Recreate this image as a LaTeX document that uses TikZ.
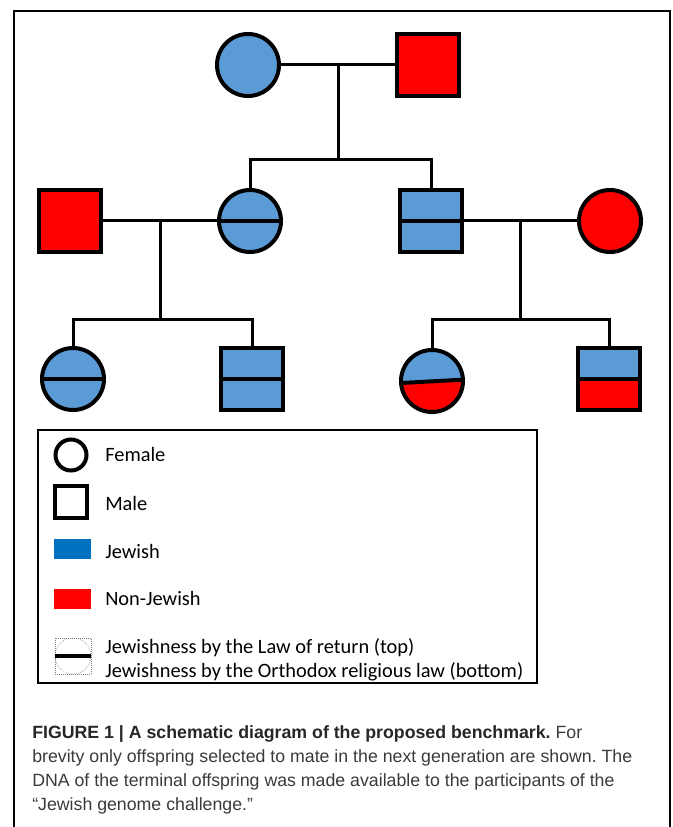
\documentclass[tikz,border=0pt]{standalone}
\usepackage{fontspec}
\setmainfont{Carlito}
\newfontfamily\capfont{Liberation Sans}
\usetikzlibrary{calc}
\frenchspacing

\definecolor{pblue}{HTML}{5B9BD5}
\definecolor{lblue}{HTML}{0070C0}
\definecolor{pred}{HTML}{FF0000}
\definecolor{capgray}{HTML}{3A3A3A}

\tikzset{
  person/.style={draw, line width=3pt, inner sep=0pt, minimum size=46.5pt},
  female/.style={person, circle},
  male/.style={person, rectangle},
  split/.style 2 args={path picture={
      \fill[#1] (path picture bounding box.north west) rectangle (path picture bounding box.east);
      \fill[#2] (path picture bounding box.west) rectangle (path picture bounding box.south east);
      \draw[line width=3pt] (path picture bounding box.west) -- (path picture bounding box.east);}},
  link/.style={line width=2.25pt},
  legtext/.style={anchor=base west, inner sep=0pt, font=\fontsize{15.3}{18}\selectfont},
  captext/.style={anchor=base west, inner sep=0pt, text=capgray, font=\capfont\fontsize{13.3}{15}\selectfont}
}

\begin{document}
\begin{tikzpicture}[x=0.75pt, y=-0.75pt]
\useasboundingbox (0,0) rectangle (673,827);

% frame
\draw[line width=1.2pt] (14,827) -- (14,11) -- (670,11) -- (670,827);

% first generation
\node[female, fill=pblue] (gm) at (248,65) {};
\node[male, fill=pred] (gf) at (428,65) {};

% second generation
\node[male, fill=pred] (m1) at (70,221) {};
\node[female, split={pblue}{pblue}] (d1) at (250,221) {};
\node[male, split={pblue}{pblue}] (s1) at (431,221) {};
\node[female, fill=pred] (w1) at (610,221) {};

% third generation
\node[female, split={pblue}{pblue}] (c1) at (73,379) {};
\node[male, split={pblue}{pblue}] (c2) at (252,379) {};
\node[female, path picture={
    \fill[pblue] (path picture bounding box.north west) -- (path picture bounding box.north east)
      -- ([yshift=1pt]path picture bounding box.east) -- ([yshift=-1.5pt]path picture bounding box.west) -- cycle;
    \fill[pred] ([yshift=1pt]path picture bounding box.east) -- ([yshift=-1.5pt]path picture bounding box.west)
      -- (path picture bounding box.south west) -- (path picture bounding box.south east) -- cycle;
    \draw[line width=3pt] ([yshift=-1.5pt]path picture bounding box.west) -- ([yshift=1pt]path picture bounding box.east);}]
  (c3) at (432,381) {};
\node[male, split={pblue}{pred}] (c4) at (609,379) {};

% matings and offspring
\coordinate (u0) at ($(gm.east)!0.5!(gf.west)$);
\coordinate (t0) at (338,160);
\coordinate (u1) at ($(m1.east)!0.5!(d1.west)$);
\coordinate (t1) at (160,319);
\coordinate (u2) at ($(s1.east)!0.5!(w1.west)$);
\coordinate (t2) at (520,319);

\draw[link] (gm) -- (gf);
\draw[link] (u0) -- (t0);
\draw[link] (d1.north) -- (d1.north |- t0) -- (s1.north |- t0) -- (s1.north);

\draw[link] (m1) -- (d1);
\draw[link] (u1) -- (u1 |- t1);
\draw[link] (c1.north) -- (c1.north |- t1) -- (c2.north |- t1) -- (c2.north);

\draw[link] (s1) -- (w1);
\draw[link] (u2) -- (u2 |- t2);
\draw[link] (c3.north) -- (c3.north |- t2) -- (c4.north |- t2) -- (c4.north);

% legend
\draw[line width=1.1pt] (38,430) rectangle (537,683);
\node[draw, circle, line width=3pt, inner sep=0pt, minimum size=23.25pt] (lf) at (71,455) {};
\node[draw, rectangle, line width=3pt, inner sep=0pt, minimum size=24pt] (lm) at (71,502) {};
\node[fill=lblue, inner sep=0pt, minimum width=27.75pt, minimum height=15pt] (lj) at (72.5,549) {};
\node[fill=pred, inner sep=0pt, minimum width=27.75pt, minimum height=15pt] (ln) at (72.5,598.5) {};
\node[draw=gray, densely dotted, line width=0.5pt, inner sep=0pt, minimum size=27pt] (lr) at (73,656) {};
\draw[gray, densely dotted, line width=0.5pt] (lr.center) circle (13.5pt);
\draw[line width=3pt] (lr.west) -- (lr.east);

\node[legtext] (tf) at (105,461) {Female};
\node[legtext] (tm) at (105,510) {Male};
\node[legtext] (tj) at (105,558) {Jewish};
\node[legtext] (tn) at (105,605) {Non-Jewish};
\node[legtext] (tr1) at (105,653) {Jewishness by the Law of return (top)};
\node[legtext] (tr2) at (105,677) {Jewishness by the Orthodox religious law (bottom)};

% caption
\node[captext] (cap1) at (32,738) {\textbf{\color{black!85}FIGURE 1 | A schematic diagram of the proposed benchmark.} For};
\node[captext] (cap2) at (32,762) {brevity only offspring selected to mate in the next generation are shown. The};
\node[captext] (cap3) at (32,786) {DNA of the terminal offspring was made available to the participants of the};
\node[captext] (cap4) at (32,810) {“Jewish genome challenge.”};

\end{tikzpicture}
\end{document}
